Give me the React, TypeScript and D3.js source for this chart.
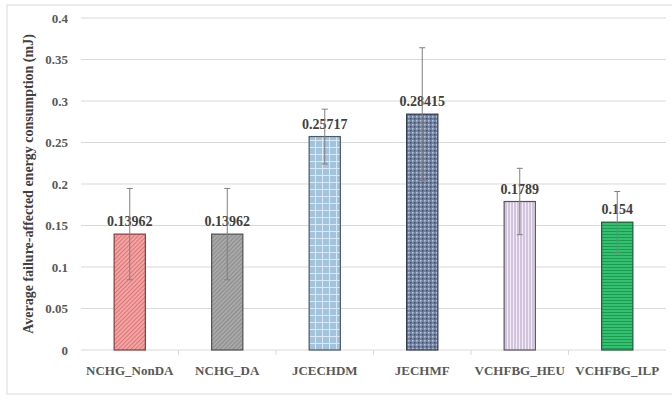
import React from "react";
import * as d3 from "d3";

const categories = ["NCHG_NonDA", "NCHG_DA", "JCECHDM", "JECHMF", "VCHFBG_HEU", "VCHFBG_ILP"];
const values = [0.13962, 0.13962, 0.25717, 0.28415, 0.1789, 0.154];
const valueLabels = ["0.13962", "0.13962", "0.25717", "0.28415", "0.1789", "0.154"];
const errors = [0.055, 0.055, 0.033, 0.08, 0.04, 0.037];
const yTicks = [0, 0.05, 0.1, 0.15, 0.2, 0.25, 0.3, 0.35, 0.4];
const yTitle = "Average failure-affected energy consumption (mJ)";

const W = 672;
const H = 404;
const FONT = "'Liberation Serif', 'Times New Roman', serif";

const patternIds = ["pRed", "pGray", "pBlue", "pSlate", "pLav", "pGreen"];
const strokes = ["#8a3a3a", "#505050", "#4a5a66", "#2f3a50", "#5a5060", "#1f5a34"];

export default function App() {
  const x = d3.scaleBand<string>().domain(categories).range([81, 666]).paddingInner(0.68).paddingOuter(0.34);
  const y = d3.scaleLinear().domain([0, 0.4]).range([350, 18]);
  const step = x.step();
  const fmt = (v: number) => (v === 0 ? "0" : String(+v.toFixed(2)));

  return (
    <svg width={W} height={H} style={{ position: "absolute", left: 0, top: 0, background: "#fff" }}>
      <defs>
        <pattern id="pRed" width="3" height="3" patternUnits="userSpaceOnUse" patternTransform="rotate(45)">
          <rect width="3" height="3" fill="#f4a3a3" />
          <line x1="0" y1="0" x2="0" y2="3" stroke="#c85a5a" strokeWidth="1.2" />
        </pattern>
        <pattern id="pGray" width="3" height="3" patternUnits="userSpaceOnUse" patternTransform="rotate(45)">
          <rect width="3" height="3" fill="#a8a8a8" />
          <line x1="0" y1="0" x2="0" y2="3" stroke="#7a7a7a" strokeWidth="1.2" />
        </pattern>
        <pattern id="pBlue" width="7" height="7" patternUnits="userSpaceOnUse">
          <rect width="7" height="7" fill="#a3c3dc" />
          <line x1="0" y1="0.5" x2="7" y2="0.5" stroke="#d8e8f4" strokeWidth="1" />
          <line x1="0.5" y1="0" x2="0.5" y2="7" stroke="#d8e8f4" strokeWidth="1" />
        </pattern>
        <pattern id="pSlate" width="4" height="4" patternUnits="userSpaceOnUse">
          <rect width="4" height="4" fill="#7385a6" />
          <rect x="0" y="0" width="1.5" height="1.5" fill="#b8c3d8" />
          <rect x="2" y="2" width="1.5" height="1.5" fill="#3f4c66" />
        </pattern>
        <pattern id="pLav" width="3" height="3" patternUnits="userSpaceOnUse">
          <rect width="3" height="3" fill="#d2c4de" />
          <line x1="0.5" y1="0" x2="0.5" y2="3" stroke="#f2ecf6" strokeWidth="1" />
        </pattern>
        <pattern id="pGreen" width="3" height="3" patternUnits="userSpaceOnUse">
          <rect width="3" height="3" fill="#33c070" />
          <line x1="0" y1="0.5" x2="3" y2="0.5" stroke="#1f9a52" strokeWidth="1" />
        </pattern>
      </defs>

      <rect x={7} y={5} width={700} height={389} fill="none" stroke="#d9d9d9" strokeWidth={1} />

      {yTicks.map((t) => (
        <g key={t}>
          <line x1={81} x2={666} y1={y(t)} y2={y(t)} stroke="#d9d9d9" strokeWidth={1} />
          <text x={68} y={y(t) + 4.5} textAnchor="end" fontFamily={FONT} fontWeight="bold" fontSize={13} fill="#595959">
            {fmt(t)}
          </text>
        </g>
      ))}

      {categories.slice(0, -1).map((c) => (
        <line key={c} x1={(x(c) as number) + x.bandwidth() / 2 + step / 2} x2={(x(c) as number) + x.bandwidth() / 2 + step / 2} y1={350} y2={355} stroke="#d9d9d9" />
      ))}

      <text
        transform={`translate(33,${(y(0) + y(0.4)) / 2}) rotate(-90)`}
        textAnchor="middle"
        fontFamily={FONT}
        fontWeight="bold"
        fontSize={14}
        fill="#404040"
      >
        {yTitle}
      </text>

      {categories.map((c, i) => {
        const bx = x(c) as number;
        const bw = x.bandwidth();
        const cx = bx + bw / 2;
        const v = values[i];
        const e = errors[i];
        return (
          <g key={c}>
            <rect x={bx} y={y(v)} width={bw} height={y(0) - y(v)} fill={`url(#${patternIds[i]})`} stroke={strokes[i]} strokeWidth={1.2} />
            <text x={cx} y={y(v) - 8} textAnchor="middle" fontFamily={FONT} fontWeight="bold" fontSize={14} fill="#404040">
              {valueLabels[i]}
            </text>
            <line x1={cx} x2={cx} y1={y(v + e)} y2={y(v - e)} stroke="#7f7f7f" strokeWidth={1} />
            <line x1={cx - 3} x2={cx + 3} y1={y(v + e)} y2={y(v + e)} stroke="#7f7f7f" strokeWidth={1} />
            <line x1={cx - 3} x2={cx + 3} y1={y(v - e)} y2={y(v - e)} stroke="#7f7f7f" strokeWidth={1} />
            <text x={cx} y={375} textAnchor="middle" fontFamily={FONT} fontWeight="bold" fontSize={13} fill="#595959">
              {c}
            </text>
          </g>
        );
      })}
    </svg>
  );
}
